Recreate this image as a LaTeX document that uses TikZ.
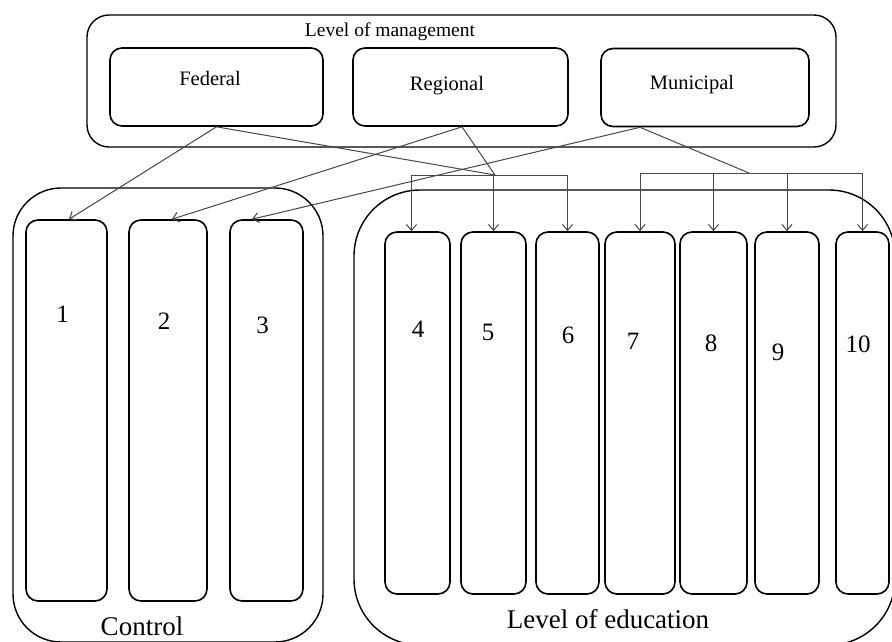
\documentclass[tikz,border=0pt]{standalone}
\usepackage{fontspec}
\setmainfont{Liberation Serif}
\usetikzlibrary{positioning, arrows.meta, calc}

\begin{document}
\begin{tikzpicture}[x=1pt, y=-1pt, every node/.style={anchor=center},
	frame/.style={draw, line width=1.4pt, inner sep=0pt},
	mgmt/.style={draw, line width=1.6pt, rounded corners=12pt, inner sep=0pt, minimum height=78},
	unit/.style={draw, line width=1.6pt, rounded corners=12pt, inner sep=0pt},
	txt/.style={anchor=base, inner sep=0pt, font=\fontsize{20.5}{22}\selectfont},
	num/.style={anchor=base, inner sep=0pt, font=\fontsize{25}{27}\selectfont},
	big/.style={anchor=base, inner sep=0pt, font=\fontsize{27}{29}\selectfont},
	link/.style={draw=black!72, line width=1pt},
	arr/.style={link, -{Straight Barb[length=6pt, width=10pt]}}]

			\useasboundingbox (0,0) rectangle (892,641);
			\clip (0,0) rectangle (892,641);

			% Level of management
			\node[frame, rounded corners=22pt, minimum width=749, minimum height=132] (top) at (461.5,81) {};
			\node[txt, font=\fontsize{19.5}{21}\selectfont] (lom) at (390,36) {Level of management};
			\node[mgmt, minimum width=213] (fed) at (216.5,87) {};
			\node[mgmt, minimum width=215] (reg) at (460.5,87) {};
			\node[mgmt, minimum width=208] (mun) at (705,87.5) {};
			\node[txt] (fedtxt) at (210,85) {Federal};
			\node[txt] (regtxt) at (447,90) {Regional};
			\node[txt] (muntxt) at (692,89) {Municipal};

			% Control
			\node[frame, rounded corners=48pt, minimum width=310, minimum height=454] (ctrl) at (168,415) {};
			\node[big] (ctrltxt) at (142,635) {Control};
			\foreach \n/\l/\r/\y in {1/26/107/322, 2/129/207/329, 3/230/303/333} {
				\node[unit, minimum width=\r-\l, minimum height=381] (b\n) at ({(\l+\r)/2},410.5) {};
				\node[num] (n\n) at ({(\l+\r)/2-4},\y) {\n};
			}

			% Level of education
			\node[frame, rounded corners=66pt, minimum width=541, minimum height=455] (edu) at (624.5,417.5) {};
			\node[big] (edutxt) at (608,628) {Level of education};
			\foreach \n/\l/\r/\x/\y in {4/385/450/418/337, 5/461/526/488/340, 6/536/599/568/343, 7/605/675/633/349,
				8/680/747/711/351, 9/755/819/778/360, 10/836/889/858/352} {
				\node[unit, minimum width=\r-\l, minimum height=362] (b\n) at ({(\l+\r)/2},413) {};
				\node[num] (n\n) at (\x,\y) {\n};
			}

			% Verbindungen
			\coordinate (j1) at (495,175);
			\coordinate (j2) at (749,173);
			\coordinate (t4) at ([xshift=-6pt]b4.north);

			\draw[arr] (fed.south) -- ([xshift=2.5pt]b1.north);
			\draw[arr] ([xshift=1.5pt]reg.south) -- ([xshift=4pt]b2.north);
			\draw[arr] ([xshift=-65pt]mun.south) -- ([xshift=-14.5pt]b3.north);

			\draw[link] (fed.south) -- (j1);
			\draw[link] ([xshift=1.5pt]reg.south) -- (j1);
			\draw[link] ([xshift=-65pt]mun.south) -- (j2);

			\draw[link] (t4 |- j1) -- (b6.north |- j1);
			\foreach \t in {t4, b5.north, b6.north} {\draw[arr] (\t |- j1) -- (\t);}
			\draw[link] (b7.north |- j2) -- (b10.north |- j2);
			\foreach \t in {b7, b8, b9, b10} {\draw[arr] (\t.north |- j2) -- (\t.north);}

		\end{tikzpicture}
\end{document}
